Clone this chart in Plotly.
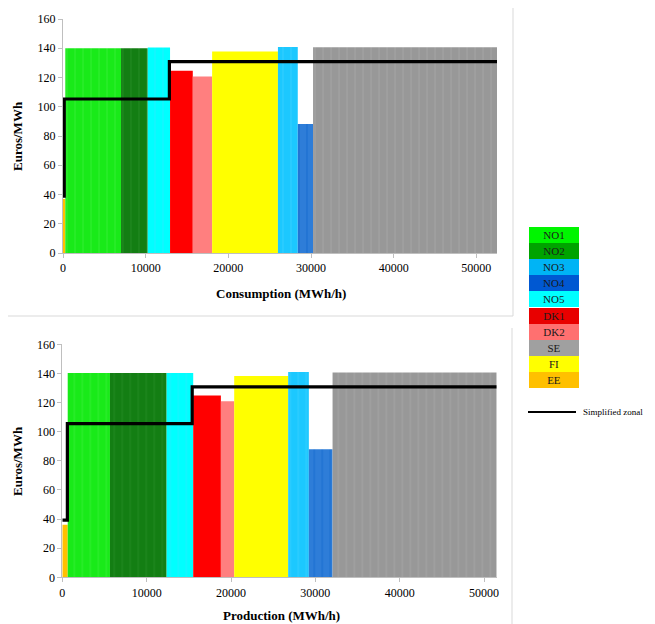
import numpy as np
import plotly.graph_objects as go

# ---- data ----
zones_order = ["EE", "NO1", "NO2", "NO5", "DK1", "DK2", "FI", "NO3", "NO4", "SE"]

cons_width = [280, 6740, 3230, 2700, 2750, 2340, 7960, 2400, 1850, 22250]
cons_price = [37, 140, 140, 140.5, 124.7, 120.6, 137.8, 140.8, 88.2, 140.6]

prod_width = [640, 5010, 6720, 3150, 3280, 1580, 6400, 2450, 2810, 19460]
prod_price = [36, 140.3, 140.3, 140.3, 124.8, 120.9, 138.3, 141, 88, 140.6]

cons_step_x = [0, 150, 12870, 52500]
cons_step_y = [38.8, 105.3, 130.8, 130.8]
prod_step_x = [0, 600, 15400, 51500]
prod_step_y = [39.2, 105.5, 130.7, 130.7]

legend_zones = ["NO1", "NO2", "NO3", "NO4", "NO5", "DK1", "DK2", "SE", "FI", "EE"]

y_ticks = [0, 20, 40, 60, 80, 100, 120, 140, 160]
x_ticks = [0, 10000, 20000, 30000, 40000, 50000]
x_tick_labels = ["0", "10000", "20000", "30000", "40000", "50000"]

# ---- styles ----
bar_color = {"EE": "#FFC000", "NO1": "#19EA19", "NO2": "#137E13", "NO5": "#00FFFF",
             "DK1": "#FF0000", "DK2": "#FF7F7F", "FI": "#FFFF00", "NO3": "#1CC8FF",
             "NO4": "#2E7DD8", "SE": "#989898"}
stripe_color = {"EE": "#FFC000", "NO1": "#45F245", "NO2": "#2F942F", "NO5": "#38E4FF",
                "DK1": "#FF0000", "DK2": "#FF7F7F", "FI": "#FFFF00", "NO3": "#46D3FF",
                "NO4": "#0A60C8", "SE": "#AEAEAE"}
striped = {"NO1", "NO2", "NO5", "NO3", "NO4", "SE"}
legend_color = {"NO1": "#00F500", "NO2": "#00A300", "NO3": "#00B4F5", "NO4": "#0058D2",
                "NO5": "#00FFFF", "DK1": "#E80000", "DK2": "#FF7070", "SE": "#A0A0A0",
                "FI": "#FFFF00", "EE": "#FFC000"}

# the page body has an 8px margin; figure offset accordingly
OFF = 8
W, H = 655 - OFF, 624 - OFF
SERIF = "Liberation Serif, Times New Roman, serif"


def px(x):
    return (x - OFF) / W


def py(y):
    return 1 - (y - OFF) / H


fig = go.Figure()


def add_panel(widths, prices, sx, sy, xa, ya):
    widths = np.array(widths, dtype=float)
    left = np.concatenate([[0], np.cumsum(widths)[:-1]])
    mids = left + widths / 2
    for z, m, w, p in zip(zones_order, mids, widths, prices):
        pat = dict(shape="|", fgcolor=stripe_color[z], size=8, solidity=0.15,
                   fillmode="overlay") if z in striped else None
        fig.add_trace(go.Bar(x=[m], y=[p], width=[w], xaxis=xa, yaxis=ya,
                             marker=dict(color=bar_color[z], line=dict(width=0),
                                         pattern=pat),
                             showlegend=False, name=z))
    fig.add_trace(go.Scatter(x=sx, y=sy, mode="lines",
                             line=dict(color="black", width=3.2, shape="hv"),
                             xaxis=xa, yaxis=ya, showlegend=False, name="Simplified zonal"))


add_panel(cons_width, cons_price, cons_step_x, cons_step_y, "x", "y")
add_panel(prod_width, prod_price, prod_step_x, prod_step_y, "x2", "y2")

axis_common = dict(showline=True, linecolor="#BFBFBF", linewidth=1, ticks="outside",
                   tickcolor="#BFBFBF", ticklen=4, showgrid=False, zeroline=False,
                   automargin=False,
                   tickfont=dict(family=SERIF, size=12, color="black"))

fig.update_layout(
    width=W, height=H, margin=dict(l=0, r=0, t=0, b=0),
    paper_bgcolor="white", plot_bgcolor="white", barmode="overlay",
    xaxis=dict(domain=[px(63), px(497)], range=[0, 52500], tickvals=x_ticks,
               ticktext=x_tick_labels, anchor="y", **axis_common),
    yaxis=dict(domain=[py(253), py(19)], range=[0, 160], tickvals=y_ticks,
               anchor="x", **axis_common),
    xaxis2=dict(domain=[px(62.3), px(496.7)], range=[0, 51500], tickvals=x_ticks,
                ticktext=x_tick_labels, anchor="y2", **axis_common),
    yaxis2=dict(domain=[py(577.3), py(344.3)], range=[0, 160], tickvals=y_ticks,
                anchor="x2", **axis_common),
)

ann = []
shapes = []
title_font = dict(family=SERIF, size=13, color="black")
common_anchor = dict(xref="paper", yref="paper", xanchor="center", yanchor="middle",
                     showarrow=False)
ann.append(dict(text="<b>Euros/MWh</b>", x=px(17), y=py(136), textangle=-90,
                font=title_font, **common_anchor))
ann.append(dict(text="<b>Euros/MWh</b>", x=px(17), y=py(461), textangle=-90,
                font=title_font, **common_anchor))
ann.append(dict(text="<b>Consumption (MWh/h)</b>", x=px(281), y=py(293),
                font=title_font, **common_anchor))
ann.append(dict(text="<b>Production (MWh/h)</b>", x=px(281), y=py(615),
                font=title_font, **common_anchor))

# legend boxes
top = 227
bh = 16.1
for i, z in enumerate(legend_zones):
    cy = top + bh * i + bh / 2
    ann.append(dict(text=z, x=px(554), y=py(cy), bgcolor=legend_color[z], width=50,
                    height=16, borderpad=0, borderwidth=0,
                    font=dict(family=SERIF, size=11, color="#1a1a1a"), **common_anchor))
shapes.append(dict(type="line", xref="paper", yref="paper", x0=px(528), x1=px(576),
                   y0=py(412), y1=py(412), line=dict(color="black", width=2)))
ann.append(dict(text="Simplified zonal", x=px(581), y=py(412), xref="paper", yref="paper",
                xanchor="left", yanchor="middle", showarrow=False,
                font=dict(family=SERIF, size=9, color="black")))

# chart frames
fc = "#D9D9D9"
shapes.append(dict(type="line", xref="paper", yref="paper", x0=px(513), x1=px(513),
                   y0=py(3), y1=py(316), line=dict(color=fc, width=1)))
shapes.append(dict(type="line", xref="paper", yref="paper", x0=px(0), x1=px(513),
                   y0=py(316), y1=py(316), line=dict(color=fc, width=1)))
shapes.append(dict(type="line", xref="paper", yref="paper", x0=px(512), x1=px(512),
                   y0=py(328), y1=py(624), line=dict(color=fc, width=1)))

fig.update_layout(annotations=ann, shapes=shapes)
fig.write_html("out.html")
